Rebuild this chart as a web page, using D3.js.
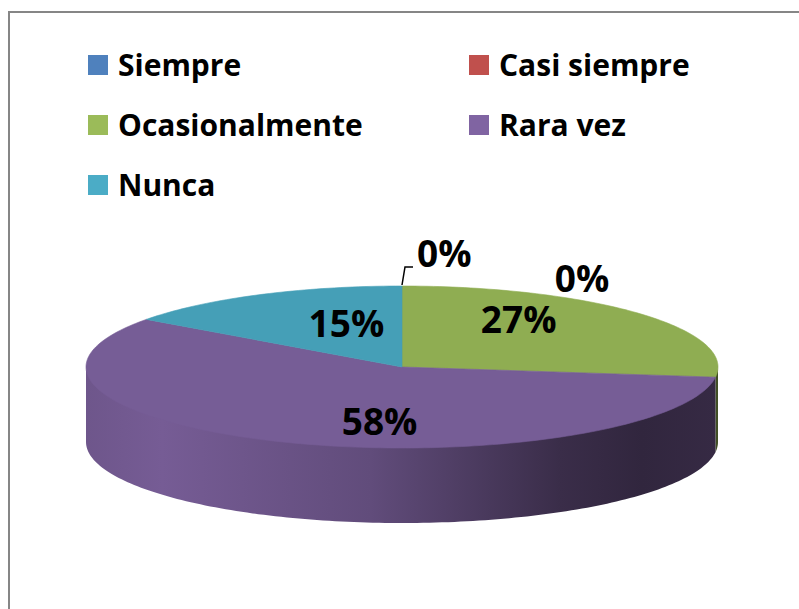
<!DOCTYPE html>
<html>
<head>
<meta charset="utf-8">
<script src="https://cdn.jsdelivr.net/npm/d3@7"></script>
<style>
  html, body { margin: 0; padding: 0; background: #fff; }
  svg { display: block; }
</style>
</head>
<body>
<div id="chart"></div>
<script>
const categories = ["Siempre", "Casi siempre", "Ocasionalmente", "Rara vez", "Nunca"];
const percents = [0, 0, 27, 58, 15];
const colors = ["#4F81BD", "#C0504D", "#9BBB59", "#8064A2", "#4BACC6"];

const width = 799, height = 609;
const cx = 402, cy = 367, rx = 316, ry = 81, depth = 75;

const svg = d3.select("#chart").append("svg")
    .attr("width", width)
    .attr("height", height);

// outer frame (right and bottom edges run off the picture)
svg.append("rect")
    .attr("x", 9).attr("y", 12)
    .attr("width", 820).attr("height", 620)
    .attr("fill", "none")
    .attr("stroke", "#868686")
    .attr("stroke-width", 2);

// legend, two columns
const legend = svg.append("g").attr("class", "legend");
categories.forEach(function (name, i) {
    let col = i % 2, row = Math.floor(i / 2);
    let g = legend.append("g")
        .attr("transform", "translate(" + (88 + col * 381) + "," + (55 + row * 60) + ")");
    g.append("rect")
        .attr("width", 20).attr("height", 20)
        .attr("fill", colors[i]);
    g.append("text")
        .attr("x", 30).attr("y", 21)
        .style("font-family", "'Open Sans', sans-serif")
        .style("font-weight", 700)
        .style("font-size", "30px")
        .attr("fill", "#000")
        .text(name);
});

// 3d pie
const pie = d3.pie().sort(null).value(d => d).startAngle(0).endAngle(2 * Math.PI);
const arcs = pie(percents);

function pt(a, dy) {
    return [cx + rx * Math.sin(a), cy - ry * Math.cos(a) + (dy || 0)];
}
function arcPoints(a0, a1, dy) {
    let n = Math.max(2, Math.ceil((a1 - a0) / 0.02));
    return d3.range(n + 1).map(k => pt(a0 + (a1 - a0) * k / n, dy));
}
const line = d3.line();

function shade(c, k) {
    let col = d3.rgb(c);
    return d3.rgb(col.r * k, col.g * k, col.b * k).formatHex();
}

const defs = svg.append("defs");
arcs.forEach(function (d, i) {
    let grad = defs.append("linearGradient")
        .attr("id", "wall" + i)
        .attr("gradientUnits", "userSpaceOnUse")
        .attr("x1", cx - rx).attr("x2", cx + rx)
        .attr("y1", 0).attr("y2", 0);
    [[0, 0.86], [0.12, 0.92], [0.45, 0.76], [0.75, 0.45], [0.88, 0.38], [1, 0.42]].forEach(function (s) {
        grad.append("stop")
            .attr("offset", s[0])
            .attr("stop-color", shade(colors[i], s[1]));
    });
});

const walls = svg.append("g").attr("class", "walls");
arcs.forEach(function (d, i) {
    let s = Math.max(d.startAngle, Math.PI / 2);
    let e = Math.min(d.endAngle, 3 * Math.PI / 2);
    if (e <= s) return;
    // start the wall a little above the rim so no seam shows
    let pts = arcPoints(s, e, -2).concat(arcPoints(s, e, depth).reverse());
    walls.append("path")
        .attr("d", line(pts) + "Z")
        .attr("fill", "url(#wall" + i + ")");
});

const tops = svg.append("g").attr("class", "tops");
arcs.forEach(function (d, i) {
    if (d.endAngle - d.startAngle <= 0) return;
    let pts = [[cx, cy]].concat(arcPoints(d.startAngle, d.endAngle, 0));
    tops.append("path")
        .attr("d", line(pts) + "Z")
        .attr("fill", shade(colors[i], 0.925))
        .attr("stroke", shade(colors[i], 0.925))
        .attr("stroke-width", 0.6);
});

// data labels
const labels = svg.append("g").attr("class", "labels")
    .style("font-family", "'Open Sans', sans-serif")
    .style("font-weight", 700)
    .style("font-size", "37px")
    .attr("fill", "#000");

const nudge = { "Ocasionalmente": [10, -7], "Rara vez": [30, -1], "Nunca": [9, 11] };
let zeroCount = 0;
arcs.forEach(function (d, i) {
    let txt = d.data + "%";
    let mid = (d.startAngle + d.endAngle) / 2;
    if (d.endAngle - d.startAngle <= 0) {
        let p = pt(mid, 0);
        if (zeroCount === 0) {
            labels.append("path")
                .attr("d", line([[p[0], p[1] - 1], [p[0] + 3, p[1] - 19], [p[0] + 11, p[1] - 19]]))
                .attr("fill", "none")
                .attr("stroke", "#000")
                .attr("stroke-width", 1.5);
            labels.append("text")
                .attr("x", p[0] + 15).attr("y", p[1] - 19)
                .attr("text-anchor", "start")
                .text(txt);
        } else {
            labels.append("text")
                .attr("x", p[0] + 180).attr("y", p[1] + 6)
                .attr("text-anchor", "middle")
                .text(txt);
        }
        zeroCount++;
        return;
    }
    let n = nudge[categories[i]] || [0, 0];
    let x = cx + rx * Math.sin(mid) * 0.45 + n[0];
    let y = cy - ry * Math.cos(mid) * 0.75 + 13 + n[1];
    labels.append("text")
        .attr("x", x).attr("y", y)
        .attr("text-anchor", "middle")
        .text(txt);
});
</script>
</body>
</html>
